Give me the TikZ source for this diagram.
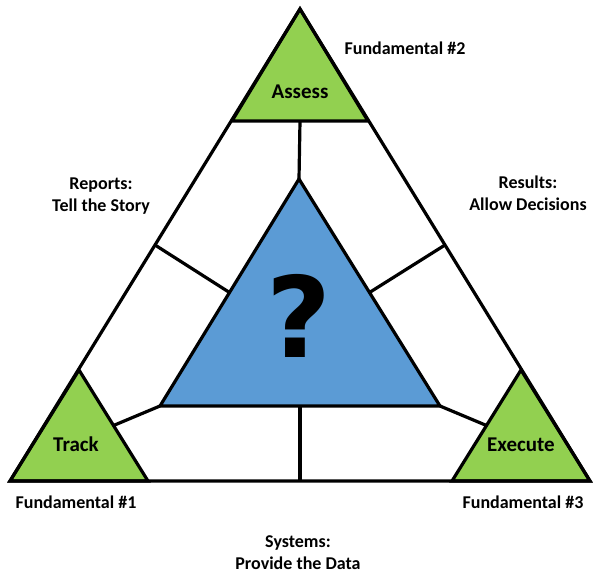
\documentclass[tikz,border=0pt]{standalone}
\usepackage{fontspec}
\setmainfont{Carlito}
\newfontfamily\qfont{DejaVu Sans}
\usetikzlibrary{calc}
\definecolor{tgreen}{HTML}{92D050}
\definecolor{tblue}{HTML}{5B9BD5}
\tikzset{
  edge/.style={line width=3.2pt, line join=miter},
  divider/.style={line width=3.2pt, line cap=butt},
  corner/.style={edge, fill=tgreen},
  corner label/.style={font=\fontsize{21}{22}\selectfont\bfseries, inner sep=0pt},
  side label/.style={font=\fontsize{18}{22}\selectfont\bfseries, align=center, inner sep=0pt},
}
\begin{document}
\begin{tikzpicture}[x=1pt,y=-1pt]
\useasboundingbox (0,0) rectangle (598,578);
% outer triangle
\coordinate (A) at (300,9);
\coordinate (L) at (10,481);
\coordinate (R) at (590,481);
% corner triangles
\coordinate (ga1) at (232,121);
\coordinate (ga2) at (368,121);
\coordinate (tA) at (79,370);
\coordinate (tb) at (148,481);
\coordinate (eA) at (521,370);
\coordinate (eb) at (452,481);
% inner triangle
\coordinate (bA) at (299,179);
\coordinate (bL) at (160,406);
\coordinate (bR) at (440,406);
\coordinate (bB) at (300,406);
\coordinate (gB) at (300,121);
\coordinate (oB) at (300,481);

\fill[white] (A) -- (L) -- (R) -- cycle;
% dividers
\draw[divider] (bA) -- (gB);
\draw[divider] (bB) -- (oB);
\draw[divider] ($(bA)!0.5!(bL)$) -- ($(A)!0.5!(L)$);
\draw[divider] ($(bA)!0.5!(bR)$) -- ($(A)!0.5!(R)$);
\draw[divider] (bL) -- ($(tA)!0.5!(tb)$);
\draw[divider] (bR) -- ($(eA)!0.5!(eb)$);
% inner
\draw[edge, fill=tblue] (bA) -- (bL) -- (bR) -- cycle;
% corners
\draw[corner] (A) -- (ga1) -- (ga2) -- cycle;
\draw[corner] (tA) -- (L) -- (tb) -- cycle;
\draw[corner] (eA) -- (eb) -- (R) -- cycle;
% outer outline
\draw[edge] (A) -- (L) -- (R) -- cycle;

% labels
\node[corner label] (assess) at (300,92) {Assess};
\node[corner label] (track) at (76,444) {Track};
\node[corner label] (execute) at (521,445) {Execute};
\node[inner sep=0pt, font=\qfont\bfseries\fontsize{112}{112}\selectfont] (q) at (299,316) {?};

\node[side label] (f2) at (405,48) {Fundamental \#2};
\node[side label] (f1) at (76,502) {Fundamental \#1};
\node[side label] (f3) at (523,502) {Fundamental \#3};
\node[side label] (rep) at (101,196) {Reports:\\Tell the Story};
\node[side label] (res) at (528,193) {Results:\\Allow Decisions};
\node[side label] (sys) at (298,553) {Systems:\\Provide the Data};
\end{tikzpicture}
\end{document}
